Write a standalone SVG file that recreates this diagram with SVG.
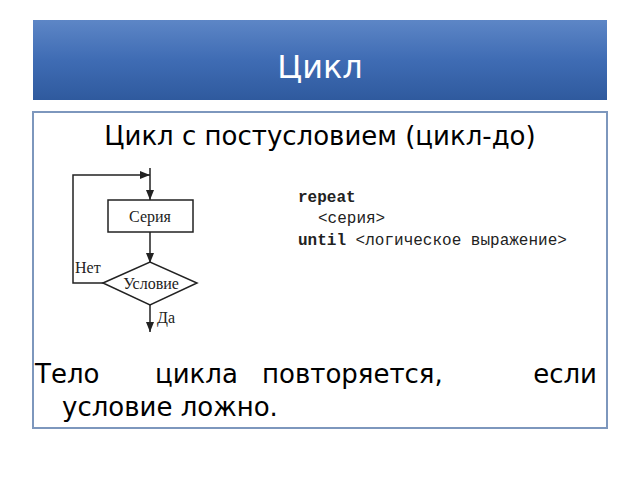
<svg xmlns="http://www.w3.org/2000/svg" width="640" height="480" viewBox="0 0 640 480">
<defs>
<linearGradient id="hg" x1="0" y1="0" x2="0" y2="1"><stop offset="0" stop-color="#5d86c6"/><stop offset="0.5" stop-color="#3f6cb4"/><stop offset="1" stop-color="#2f5a9e"/></linearGradient>
<marker id="ar" viewBox="0 0 10 10" refX="10" refY="5" markerWidth="7" markerHeight="7" orient="auto"><path d="M0,1 L10,5 L0,9 Z" fill="#222"/></marker>
</defs>
<style>
.t{font-family:"DejaVu Sans","Noto Sans",sans-serif;fill:#000;font-size:26px}
.s{font-family:"Liberation Serif",serif;font-size:16px;fill:#222}
.m{font-family:"Liberation Mono",monospace;font-size:16px;fill:#222}
.ln{stroke:#222;stroke-width:1.5;fill:none}
</style>
<rect width="640" height="480" fill="#fff"/>
<rect x="33" y="20" width="574" height="80" fill="url(#hg)"/>
<text x="320" y="78" text-anchor="middle" font-family="DejaVu Sans,sans-serif" font-size="32" fill="#fff">Цикл</text>
<rect x="33" y="112" width="574" height="316" fill="#fff" stroke="#7d97bd" stroke-width="2"/>
<text class="t" x="320" y="145" text-anchor="middle" font-size="25">Цикл с постусловием (цикл-до)</text>
<g id="connectors">
<path class="ln" d="M150,168 V200" marker-end="url(#ar)"/>
<path class="ln" d="M103,283 H73 V175 H150" marker-end="url(#ar)"/>
<path class="ln" d="M150,232 V263" marker-end="url(#ar)"/>
<path class="ln" d="M150,305 V332" marker-end="url(#ar)"/>
</g>
<g id="seriya"><rect x="108" y="200" width="85" height="32" fill="#fff" stroke="#222" stroke-width="1.5"/><text class="s" x="150" y="222" text-anchor="middle">Серия</text></g>
<g id="uslovie"><path d="M103,283 L150,262 L197,283 L150,305 Z" fill="#fff" stroke="#222" stroke-width="1.5"/><text class="s" x="151" y="289" text-anchor="middle">Условие</text></g>
<text class="s" x="75" y="273">Нет</text>
<text class="s" x="157" y="323">Да</text>
<text class="m" x="298" y="202" font-weight="bold">repeat</text>
<text class="m" x="318" y="223">&lt;серия&gt;</text>
<text class="m" x="298" y="245"><tspan font-weight="bold">until</tspan> &lt;логическое выражение&gt;</text>
<text class="t" x="35" y="383">Тело</text>
<text class="t" x="155" y="383">цикла</text>
<text class="t" x="262" y="383">повторяется,</text>
<text class="t" x="597" y="383" text-anchor="end">если</text>
<text class="t" x="62" y="416">условие ложно.</text>
</svg>
